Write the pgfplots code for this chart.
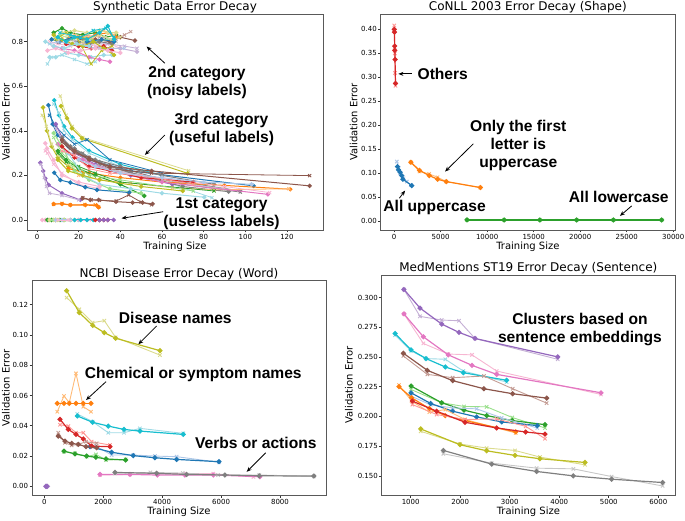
\documentclass[border=0pt]{standalone}
\usepackage{fontspec}
\setmainfont{DejaVu Sans}
\newfontfamily\annfont{Liberation Sans}
\usepackage{pgfplots}
\pgfplotsset{compat=1.18}
\usetikzlibrary{arrows.meta}
\definecolor{tb}{HTML}{1F77B4}\definecolor{tbl}{HTML}{AEC7E8}
\definecolor{to}{HTML}{FF7F0E}\definecolor{tol}{HTML}{FFBB78}
\definecolor{tg}{HTML}{2CA02C}\definecolor{tgl}{HTML}{98DF8A}
\definecolor{tr}{HTML}{D62728}\definecolor{trl}{HTML}{FF9896}
\definecolor{tp}{HTML}{9467BD}\definecolor{tpl}{HTML}{C5B0D5}
\definecolor{tn}{HTML}{8C564B}\definecolor{tnl}{HTML}{C49C94}
\definecolor{tk}{HTML}{E377C2}\definecolor{tkl}{HTML}{F7B6D2}
\definecolor{ty}{HTML}{7F7F7F}\definecolor{tyl}{HTML}{C7C7C7}
\definecolor{tv}{HTML}{BCBD22}\definecolor{tvl}{HTML}{DBDB8D}
\definecolor{tc}{HTML}{17BECF}\definecolor{tcl}{HTML}{9EDAE5}
\pgfplotsset{
 panel/.style={scale only axis, anchor=south west,
  axis line style={black!65, line width=0.9pt},
  tick align=outside, tickpos=left, major tick length=2.5pt,
  tick style={black!80, line width=0.6pt},
  tick label style={font=\fontsize{7}{8}\selectfont, inner sep=1.2pt},
  label style={font=\fontsize{10}{12}\selectfont},
  title style={font=\fontsize{12}{14}\selectfont, inner sep=0pt, yshift=-5pt},
  xlabel={Training Size}, ylabel={Validation Error},
  xlabel style={yshift=2pt},
  ylabel style={at={(axis description cs:0,0.5)}, anchor=center},
  clip mode=individual,
  /pgf/number format/assume math mode=true,
  /pgf/number format/1000 sep={}, scaled ticks=false},
 dk/.style={color=#1, mark=*, mark size=1.9pt, line width=1.2pt, mark options={solid}},
 lt/.style={color=#1, mark=x, mark size=2.4pt, line width=0.9pt, mark options={solid}},
}
\tikzset{ann/.style={font=\annfont\bfseries\fontsize{15.6}{18}\selectfont, align=center},
 arr/.style={-{Stealth[length=5pt,width=4pt]}, line width=0.8pt, black}}
\begin{document}
\begin{tikzpicture}
\path[use as bounding box] (0,0) rectangle (685pt,520pt);
% ---------------- Synthetic ----------------
\begin{axis}[panel, at={(27pt,290pt)}, width=296pt, height=216pt,
 title={Synthetic Data Error Decay}, ylabel style={yshift=21pt},
 xmin=-4.8, xmax=137.3, ymin=-0.045, ymax=0.924,
 xtick={0,20,40,60,80,100,120}, ytick={0,0.2,0.4,0.6,0.8},
 yticklabel style={/pgf/number format/.cd, fixed, fixed zerofill, precision=1},
 dk/.append style={mark size=1.7pt, line width=1pt}, lt/.append style={line width=0.8pt, mark size=2.2pt}]
% noisy
\addplot[lt=tcl] coordinates {(5,0.70)(7,0.73)(12,0.74)(18,0.72)(24,0.70)(28,0.71)};
\addplot[dk=tcl] coordinates {(6,0.73)(9,0.73)(14,0.75)(20,0.74)(26,0.73)(32,0.74)(36,0.74)};
\addplot[dk=tk] coordinates {(8,0.78)(12,0.77)(18,0.76)(25,0.73)(30,0.72)(35,0.71)};
\addplot[lt=tkl] coordinates {(6,0.80)(10,0.79)(16,0.78)(22,0.79)(28,0.78)(35,0.79)(40,0.77)};
\addplot[dk=tpl] coordinates {(20,0.78)(28,0.77)(35,0.77)(40,0.77)(48,0.755)};
\addplot[lt=tpl] coordinates {(18,0.80)(26,0.79)(34,0.79)(42,0.78)(48,0.77)};
\addplot[dk=tn] coordinates {(20,0.82)(28,0.81)(35,0.80)(40,0.82)(47,0.805)};
\addplot[lt=tnl] coordinates {(22,0.83)(30,0.82)(38,0.81)(42,0.83)(45,0.845)};
\addplot[dk=tg] coordinates {(8,0.84)(12,0.86)(16,0.84)(22,0.83)(28,0.84)(33,0.82)(38,0.83)};
\addplot[lt=tgl] coordinates {(7,0.81)(11,0.83)(17,0.81)(23,0.82)(29,0.80)(34,0.81)};
\addplot[dk=ty] coordinates {(10,0.80)(15,0.81)(20,0.80)(25,0.79)(30,0.80)(36,0.79)};
\addplot[lt=tyl] coordinates {(9,0.82)(14,0.80)(21,0.81)(27,0.80)(33,0.82)(38,0.80)};
\addplot[dk=tr] coordinates {(14,0.79)(20,0.78)(26,0.77)(32,0.78)(36,0.76)};
\addplot[dk=to] coordinates {(16,0.82)(22,0.81)(28,0.83)(34,0.84)(38,0.82)};
\addplot[lt=tol] coordinates {(12,0.80)(18,0.83)(26,0.82)(32,0.85)(37,0.83)};
\addplot[dk=tb] coordinates {(7,0.81)(11,0.80)(17,0.82)(24,0.80)(31,0.81)(37,0.80)};
\addplot[lt=tbl] coordinates {(6,0.79)(10,0.80)(16,0.79)(22,0.78)(30,0.77)(42,0.77)};
\addplot[dk=tvl] coordinates {(12,0.84)(18,0.85)(24,0.84)(30,0.85)(34,0.84)(38,0.84)};
\addplot[lt=tvl] coordinates {(10,0.81)(15,0.83)(22,0.80)(30,0.83)(36,0.81)(40,0.82)};
\addplot[dk=tv] coordinates {(8,0.83)(12,0.81)(17,0.79)(22,0.78)(27,0.80)(32,0.77)(37,0.74)};
\addplot[lt=tv] coordinates {(9,0.81)(14,0.84)(19,0.82)(26,0.70)(31,0.76)(36,0.78)};
\addplot[dk=tc] coordinates {(10,0.82)(14,0.80)(18,0.82)(24,0.81)(30,0.84)(34,0.87)(37,0.81)};
\addplot[lt=tc] coordinates {(11,0.84)(16,0.83)(21,0.82)(27,0.85)(33,0.86)(37,0.82)};
\addplot[dk=tkl] coordinates {(5,0.76)(9,0.77)(15,0.75)(21,0.76)(28,0.77)(34,0.76)(40,0.75)};
\addplot[dk=tcl] coordinates {(4,0.80)(8,0.78)(13,0.77)(19,0.79)(25,0.78)};
% useful
\addplot[lt=tvl] coordinates {(11.2,0.556)(14,0.47)(17,0.42)(22,0.37)(72.8,0.221)};
\addplot[dk=tv] coordinates {(11.5,0.511)(14.4,0.456)(16.8,0.411)(21.6,0.366)(72.3,0.209)};
\addplot[dk=tv] coordinates {(2.9,0.505)(4.8,0.40)(7,0.33)(10,0.28)(15,0.24)(22,0.21)};
\addplot[lt=tvl] coordinates {(2.5,0.47)(4.5,0.42)(7,0.34)(10,0.29)(15,0.25)(22,0.22)};
\addplot[dk=tc] coordinates {(8.3,0.537)(10.5,0.47)(13,0.42)(17,0.37)(25,0.31)(40,0.25)(60,0.20)};
\addplot[lt=tcl] coordinates {(8,0.52)(10.5,0.48)(13,0.40)(17,0.36)(25,0.30)(40,0.24)(84,0.10)};
\addplot[dk=tb] coordinates {(5.5,0.515)(7.5,0.43)(10,0.38)(15,0.33)(25,0.27)(45,0.22)(104,0.153)};
\addplot[lt=tb] coordinates {(6,0.47)(9,0.42)(13,0.38)(18,0.34)(24,0.36)(35,0.27)(60,0.21)};
\addplot[dk=tp] coordinates {(9,0.43)(12,0.37)(18,0.30)(28,0.25)(45,0.20)(65,0.16)};
\addplot[lt=tpl] coordinates {(9,0.41)(12,0.36)(18,0.31)(28,0.24)(45,0.21)(65,0.17)};
\addplot[dk=ty] coordinates {(12,0.37)(16,0.33)(22,0.29)(30,0.26)(45,0.21)(70,0.17)(97.6,0.13)};
\addplot[lt=ty] coordinates {(12,0.35)(16,0.32)(22,0.30)(30,0.25)(45,0.22)(70,0.16)(97.6,0.125)};
\addplot[dk=ty] coordinates {(14,0.34)(20,0.30)(28,0.27)(40,0.24)(60,0.20)(85,0.16)};
\addplot[dk=ty] coordinates {(18,0.32)(25,0.28)(35,0.24)(50,0.20)(70,0.15)(92,0.127)};
\addplot[lt=tyl] coordinates {(16,0.30)(24,0.26)(34,0.23)(48,0.20)(66,0.17)(90,0.14)};
\addplot[dk=tn] coordinates {(12,0.36)(18,0.31)(25,0.27)(35,0.24)(55,0.22)(130.9,0.153)};
\addplot[lt=tn] coordinates {(12,0.35)(18,0.30)(25,0.28)(35,0.23)(55,0.21)(130.9,0.199)};
\addplot[dk=to] coordinates {(15,0.23)(25,0.21)(40,0.19)(60,0.17)(90,0.155)(121.6,0.138)};
\addplot[lt=tol] coordinates {(20,0.20)(30,0.18)(45,0.165)(65,0.145)(85,0.135)(121,0.14)};
\addplot[dk=tk] coordinates {(10,0.34)(15,0.30)(22,0.27)(35,0.22)(60,0.17)(110.8,0.115)};
\addplot[lt=tkl] coordinates {(25,0.25)(35,0.22)(50,0.20)(70,0.175)(90,0.15)(111.7,0.123)};
\addplot[dk=tg] coordinates {(10,0.31)(14,0.27)(20,0.23)(28,0.20)(40,0.16)(51.5,0.108)};
\addplot[lt=tg] coordinates {(10,0.30)(14,0.26)(20,0.24)(28,0.21)(40,0.17)(85,0.13)};
\addplot[dk=tgl] coordinates {(8,0.39)(12,0.33)(18,0.22)(25,0.18)(35,0.14)(50,0.12)};
\addplot[lt=tgl] coordinates {(8,0.37)(12,0.30)(18,0.25)(25,0.20)(40,0.18)(75,0.13)};
\addplot[dk=tcl] coordinates {(15,0.30)(22,0.20)(30,0.16)(45,0.14)(60,0.12)(80.3,0.102)};
\addplot[dk=tr] coordinates {(12,0.33)(18,0.28)(25,0.24)(35,0.22)(50,0.19)(75,0.17)};
\addplot[lt=trl] coordinates {(12,0.31)(18,0.29)(25,0.23)(35,0.21)(50,0.20)(75,0.16)};
\addplot[dk=tv] coordinates {(10,0.27)(15,0.22)(22,0.20)(30,0.18)(50,0.15)(70,0.13)};
\addplot[dk=tbl] coordinates {(20,0.27)(28,0.24)(40,0.21)(60,0.19)(80,0.17)(103,0.16)};
\addplot[dk=tp] coordinates {(1.6,0.257)(3,0.22)(4,0.187)(5.6,0.157)(12,0.12)(20.8,0.09)};
\addplot[lt=tpl] coordinates {(2,0.25)(3.5,0.19)(4.5,0.15)(6,0.12)(12,0.11)(20,0.09)};
\addplot[dk=tkl] coordinates {(4,0.344)(4.8,0.321)(8,0.269)(12,0.20)(20,0.17)(30,0.15)};
\addplot[lt=tkl] coordinates {(4,0.31)(5,0.30)(8,0.25)(12,0.21)(20,0.16)(30,0.14)};
\addplot[dk=tb] coordinates {(8.3,0.212)(11.2,0.179)(16,0.168)(23.2,0.147)(28.8,0.135)(44.3,0.123)};
\addplot[dk=tn] coordinates {(21.9,0.097)(25.6,0.090)(29.6,0.090)(37.9,0.082)(45.9,0.078)(50.7,0.078)(55.5,0.072)};
\addplot[lt=tn] coordinates {(22,0.10)(26,0.09)(30,0.088)(38,0.085)(44,0.112)(50,0.08)(55,0.068)};
\addplot[dk=to] coordinates {(8,0.072)(12,0.072)(16,0.067)(23.2,0.067)(28.8,0.064)(29.6,0.057)};
\addplot[lt=to] coordinates {(8,0.070)(12,0.074)(16,0.068)(23,0.069)(28,0.068)(29.6,0.058)};
% useless
\addplot[dk=tkl] coordinates {(2.5,0)(4,0)(5.5,0)(7,0)(9,0)};
\addplot[dk=tg] coordinates {(5,0)(7,0)(9,0)(11,0)(13,0)};
\addplot[dk=tvl] coordinates {(6,0)(8,0)(10,0)(13,0)(16,0)};
\addplot[lt=tgl] coordinates {(7,0)(10,0)(13,0)(16,0)(19,0)};
\addplot[dk=tbl] coordinates {(9,0)(12,0)(16,0)(20,0)(24,0)};
\addplot[lt=tkl] coordinates {(10,0)(15,0)(20,0)(25,0)(29,0)};
\addplot[dk=tc] coordinates {(18,0)(21,0)(24,0)(27,0)(30,0)};
\addplot[dk=tr] coordinates {(28,0)(30,0)(32,0)(34,0)};
\addplot[dk=tp] coordinates {(30,0)(32,0)(34,0)(36.8,0)};
% annotations
\node[ann] at (axis cs:76.8,0.615) {2nd category\\(noisy labels)};
\draw[arr] (axis cs:61.4,0.703) -- (axis cs:52.6,0.778);
\node[ann] at (axis cs:88.6,0.404) {3rd category\\(useful labels)};
\draw[arr] (axis cs:61.4,0.381) -- (axis cs:51.8,0.292);
\node[ann] at (axis cs:88.6,0.030) {1st category\\(useless labels)};
\draw[arr] (axis cs:60.6,0.037) -- (axis cs:40.6,0.0075);
\end{axis}
% ---------------- CoNLL ----------------
\begin{axis}[panel, at={(380.7pt,290pt)}, width=294.3pt, height=216pt,
 title={CoNLL 2003 Error Decay (Shape)}, ylabel style={yshift=27pt},
 xmin=-1440, xmax=30190, ymin=-0.019, ymax=0.432,
 xtick={0,5000,10000,15000,20000,25000,30000},
 ytick={0,0.05,0.10,0.15,0.20,0.25,0.30,0.35,0.40},
 yticklabel style={/pgf/number format/.cd, fixed, fixed zerofill, precision=2}]
\addplot[lt=trl] coordinates {(20,0.408)(40,0.398)(60,0.362)(80,0.350)(100,0.309)(150,0.282)};
\addplot[dk=tr] coordinates {(20,0.400)(40,0.394)(60,0.365)(80,0.356)(100,0.337)(150,0.287)};
\addplot[lt=tbl] coordinates {(287,0.1238)(503,0.110)(647,0.0995)(1006,0.089)(1365,0.0821)(1797,0.0751)};
\addplot[dk=tb] coordinates {(359,0.1134)(467,0.1064)(647,0.1016)(826,0.0946)(934,0.0870)(1904,0.0737)};
\addplot[lt=tol] coordinates {(1797,0.1224)(2731,0.1030)(3773,0.0981)(4671,0.0911)(5606,0.0821)(9271,0.0696)};
\addplot[dk=to] coordinates {(1797,0.1224)(2731,0.1057)(3773,0.0946)(4671,0.0870)(5606,0.0821)(9271,0.0696)};
\addplot[lt=tgl] coordinates {(7833,0.002)(11822,0.002)(15667,0.002)(19619,0.002)(23572,0.002)(28750,0.002)};
\addplot[dk=tg] coordinates {(7833,0.002)(11822,0.002)(15667,0.002)(19619,0.002)(23572,0.002)(28750,0.002)};
\node[ann, anchor=west] at (axis cs:2148,0.307) {Others};
\draw[arr] (axis cs:1901,0.307) -- (axis cs:462,0.307);
\node[ann] at (axis cs:13351,0.157) {Only the first\\letter is\\uppercase};
\draw[arr] (axis cs:8518,0.161) -- (axis cs:5478,0.103);
\node[ann] at (axis cs:4350,0.0286) {All uppercase};
\draw[arr] (axis cs:570,0.0474) -- (axis cs:1181,0.0633);
\node[ann] at (axis cs:24147,0.0507) {All lowercase};
\draw[arr] (axis cs:25532,0.0313) -- (axis cs:24275,0.0104);
\end{axis}
% ---------------- NCBI ----------------
\begin{axis}[panel, at={(32pt,25pt)}, width=294pt, height=214.3pt,
 title={NCBI Disease Error Decay (Word)}, ylabel style={yshift=26pt},
 xmin=-418, xmax=9562, ymin=-0.0057, ymax=0.1358,
 xtick={0,2000,4000,6000,8000}, ytick={0,0.02,0.04,0.06,0.08,0.10,0.12},
 yticklabel style={/pgf/number format/.cd, fixed, fixed zerofill, precision=2}]
\addplot[lt=tvl] coordinates {(758,0.1246)(1188,0.1169)(1640,0.1081)(2036,0.1094)(2421,0.0984)(3925,0.0867)};
\addplot[dk=tv] coordinates {(758,0.1292)(1188,0.1147)(1640,0.1063)(2036,0.1015)(2421,0.0978)(3925,0.0896)};
\addplot[lt=tol] coordinates {(441,0.0493)(667,0.0597)(848,0.0553)(1075,0.0746)(1324,0.0526)(1584,0.0493)};
\addplot[dk=to] coordinates {(441,0.0548)(667,0.0548)(848,0.0548)(1075,0.0548)(1324,0.0548)(1584,0.0548)};
\addplot[lt=tcl] coordinates {(1120,0.0478)(1640,0.0427)(2172,0.0354)(2704,0.0354)(3247,0.0383)(4717,0.0350)};
\addplot[dk=tc] coordinates {(1120,0.0465)(1640,0.0423)(2172,0.0398)(2704,0.0376)(3247,0.0365)(4717,0.0343)};
\addplot[lt=tbl] coordinates {(1750,0.0266)(2285,0.0207)(3020,0.0207)(3756,0.0200)(4491,0.0196)(5928,0.0159)};
\addplot[dk=tb] coordinates {(1550,0.0262)(2285,0.0225)(3020,0.0203)(3756,0.0189)(4491,0.0178)(5928,0.0163)};
\addplot[lt=trl] coordinates {(532,0.0407)(814,0.0398)(1075,0.0354)(1324,0.0354)(1606,0.0295)(2229,0.0273)};
\addplot[dk=tr] coordinates {(532,0.0443)(814,0.0376)(1075,0.0343)(1324,0.0313)(1606,0.0266)(2229,0.0262)};
\addplot[lt=tnl] coordinates {(475,0.0354)(701,0.0288)(928,0.0271)(1154,0.0277)(1414,0.0295)(1776,0.0284)};
\addplot[dk=tn] coordinates {(475,0.0332)(701,0.0299)(928,0.0284)(1154,0.0277)(1414,0.0262)(1776,0.0255)};
\addplot[lt=tgl] coordinates {(667,0.0229)(1041,0.0218)(1437,0.0196)(1753,0.0211)(2093,0.0174)(2760,0.0178)};
\addplot[dk=tg] coordinates {(667,0.0233)(1041,0.0214)(1437,0.0200)(1753,0.0192)(2093,0.0181)(2760,0.0174)};
\addplot[lt=tkl] coordinates {(1889,0.0075)(2907,0.0079)(3835,0.0084)(4774,0.0084)(5735,0.0084)(7100,0.0062)};
\addplot[dk=tk] coordinates {(1889,0.0079)(2907,0.0079)(3835,0.0075)(4774,0.0075)(5735,0.0075)(7319,0.0064)};
\addplot[lt=tyl] coordinates {(2398,0.0086)(3600,0.0092)(4700,0.0088)(5900,0.0075)(7296,0.0075)(9152,0.0066)};
\addplot[dk=ty] coordinates {(2398,0.0092)(3812,0.0086)(4830,0.0079)(6131,0.0075)(7296,0.0070)(9152,0.0068)};
\addplot[dk=tpl] coordinates {(50,0)(80,0)(110,0)};
\addplot[dk=tp] coordinates {(60,0)(90,0)};
\node[ann] at (axis cs:4447,0.1114) {Disease names};
\draw[arr] (axis cs:3815,0.1059) -- (axis cs:3191,0.0938);
\node[ann] at (axis cs:5058,0.0740) {Chemical or symptom names};
\draw[arr] (axis cs:2094,0.0691) -- (axis cs:1416,0.0570);
\node[ann] at (axis cs:7180,0.0288) {Verbs or actions};
\draw[arr] (axis cs:7515,0.0222) -- (axis cs:6870,0.0096);
\end{axis}
% ---------------- MedMentions ----------------
\begin{axis}[panel, at={(381.7pt,25pt)}, width=293.3pt, height=220pt,
 title={MedMentions ST19 Error Decay (Sentence)}, ylabel style={yshift=32.7pt},
 xmin=415, xmax=6337, ymin=0.1339, ymax=0.319,
 xtick={1000,2000,3000,4000,5000,6000},
 ytick={0.150,0.175,0.200,0.225,0.250,0.275,0.300},
 yticklabel style={/pgf/number format/.cd, fixed, fixed zerofill, precision=3}]
\addplot[lt=tpl] coordinates {(865,0.3068)(1188,0.2842)(1626,0.2811)(1976,0.2805)(2299,0.2656)(3968,0.2481)};
\addplot[dk=tp] coordinates {(865,0.3068)(1188,0.2912)(1626,0.2777)(1976,0.2707)(2299,0.2656)(3968,0.2501)};
\addplot[lt=tkl] coordinates {(865,0.2862)(1256,0.2614)(1760,0.2525)(2238,0.2518)(2736,0.2382)(4843,0.2185)};
\addplot[dk=tk] coordinates {(865,0.2862)(1256,0.2670)(1760,0.2518)(2238,0.2430)(2736,0.2354)(4843,0.2199)};
\addplot[lt=tcl] coordinates {(684,0.2684)(1007,0.2552)(1310,0.2487)(1700,0.2481)(2063,0.2382)(2938,0.2289)};
\addplot[dk=tc] coordinates {(684,0.2698)(1007,0.2560)(1310,0.2487)(1700,0.2416)(2063,0.2368)(2938,0.2304)};
\addplot[lt=tnl] coordinates {(852,0.2509)(1336,0.2354)(1848,0.2326)(2480,0.2340)(3059,0.2233)(3746,0.2112)};
\addplot[dk=tn] coordinates {(852,0.2532)(1336,0.2388)(1848,0.2301)(2480,0.2233)(3059,0.2191)(3746,0.2154)};
\addplot[lt=tgl] coordinates {(1007,0.2227)(1626,0.2115)(2077,0.2084)(2534,0.2081)(3052,0.1991)(3712,0.1903)};
\addplot[dk=tg] coordinates {(1007,0.2256)(1626,0.2115)(2077,0.2053)(2534,0.2007)(3052,0.1965)(3712,0.1931)};
\addplot[lt=tbl] coordinates {(1007,0.2171)(1404,0.2098)(1848,0.2072)(2332,0.2064)(2837,0.1988)(3557,0.1903)};
\addplot[dk=tb] coordinates {(1007,0.2199)(1404,0.2109)(1848,0.2044)(2332,0.1996)(2837,0.1954)(3557,0.1923)};
\addplot[lt=tol] coordinates {(764,0.2264)(1020,0.2129)(1377,0.2036)(1700,0.2058)(2100,0.1974)(3120,0.1861)};
\addplot[dk=to] coordinates {(764,0.2250)(1020,0.2157)(1377,0.2066)(1700,0.2007)(2100,0.1965)(3120,0.1870)};
\addplot[lt=trl] coordinates {(1034,0.2100)(1525,0.2016)(2097,0.1974)(2736,0.1979)(3322,0.1917)(3712,0.1813)};
\addplot[dk=tr] coordinates {(1034,0.2129)(1525,0.2044)(2097,0.1951)(2736,0.1903)(3322,0.1869)(3712,0.1852)};
\addplot[lt=tvl] coordinates {(1202,0.1875)(1996,0.1768)(2534,0.1734)(3106,0.1714)(3611,0.1658)(4520,0.1593)};
\addplot[dk=tv] coordinates {(1202,0.1895)(1996,0.1762)(2534,0.1711)(3106,0.1672)(3611,0.1644)(4520,0.1613)};
\addplot[lt=tyl] coordinates {(1660,0.1686)(2635,0.1607)(3544,0.1565)(4284,0.1559)(5058,0.1494)(6087,0.1415)};
\addplot[dk=ty] coordinates {(1660,0.1714)(2635,0.1599)(3544,0.1537)(4284,0.1500)(5058,0.1472)(6087,0.1444)};
\node[ann] at (axis cs:4418,0.2735) {Clusters based on\\sentence embeddings};
\end{axis}
\end{tikzpicture}
\end{document}
